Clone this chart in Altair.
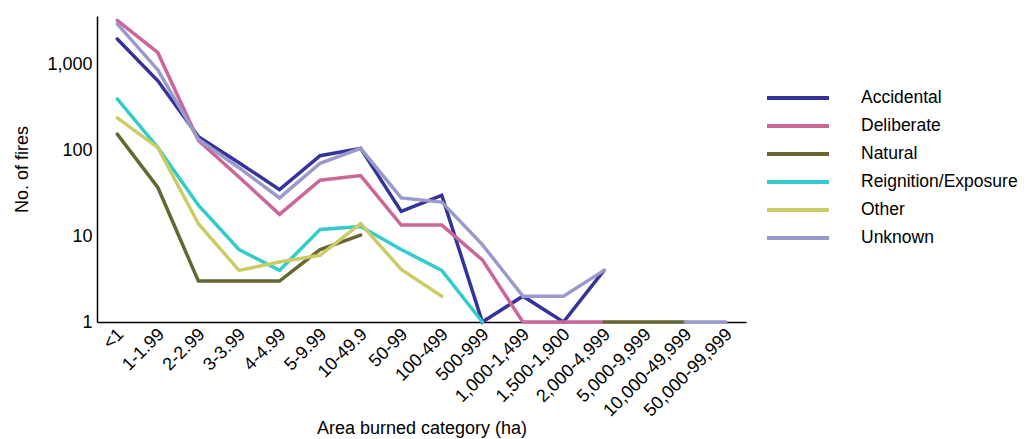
import altair as alt
import pandas as pd

categories = ["<1", "1-1.99", "2-2.99", "3-3.99", "4-4.99", "5-9.99", "10-49.9",
              "50-99", "100-499", "500-999", "1,000-1,499", "1,500-1,900",
              "2,000-4,999", "5,000-9,999", "10,000-49,999", "50,000-99,999"]

series_names = ["Accidental", "Deliberate", "Natural", "Reignition/Exposure", "Other", "Unknown"]
series_colors = ["#333399", "#cc6699", "#666633", "#33cccc", "#cccc66", "#9999cc"]

accidental = [2000, 650, 145, 72, 35, 87, 106, 19.5, 30, 1, 2, 1, 4, None, None, None]
deliberate = [3300, 1380, 131, 49, 18, 45, 51, 13.5, 13.5, 5.3, 1, 1, 1, None, None, None]
natural = [155, 37, 3, 3, 3, 7, 10.3, None, None, None, None, None, 1, 1, 1, None]
reignition = [400, 108, 23, 7, 4, 12, 13, 7, 4, 1, None, None, None, None, None, None]
other = [240, 108, 14, 4, 5, 6, 14, 4.1, 2, None, None, None, None, None, None, None]
unknown = [3000, 870, 135, 63, 28, 71, 106, 28, 25, 8, 2, 2, 4, None, 1, 1]

values = [accidental, deliberate, natural, reignition, other, unknown]

rows = []
for name, vals in zip(series_names, values):
    seg = 0
    prev_none = True
    for cat, v in zip(categories, vals):
        if v is None:
            prev_none = True
            continue
        if prev_none:
            seg += 1
            prev_none = False
        rows.append({"cause": name, "category": cat, "fires": v, "seg": f"{name}-{seg}"})
df = pd.DataFrame(rows)

font = "Liberation Sans"

chart = alt.Chart(df).mark_line(strokeWidth=3.5, strokeCap="round", strokeJoin="miter").encode(
    x=alt.X("category:N", sort=categories, scale=alt.Scale(domain=categories, type="point", padding=0.5),
            axis=alt.Axis(title="Area burned category (ha)", labelAngle=-45, ticks=False, grid=False,
                          domainColor="black", domainWidth=1.5, labelFontSize=18, labelPadding=3,
                          labelOffset=-3,
                          titleFontSize=18, titleFontWeight="normal", titlePadding=0,
                          labelColor="black", titleColor="black")),
    y=alt.Y("fires:Q", scale=alt.Scale(type="log", domain=[1, 3700], nice=False),
            axis=alt.Axis(title="No. of fires", values=[1, 10, 100, 1000], format=",", ticks=False,
                          grid=False, domainColor="black", domainWidth=1.5, labelFontSize=18,
                          labelPadding=5, titleFontSize=18, titleFontWeight="normal",
                          titlePadding=15, labelColor="black", titleColor="black")),
    color=alt.Color("cause:N", scale=alt.Scale(domain=series_names, range=series_colors),
                    legend=alt.Legend(title=None, orient="none", legendX=689, legendY=70,
                                      symbolType="M-3.1,0H3.1", symbolSize=400, symbolStrokeWidth=4,
                                      labelFontSize=17.5, labelFont=font, labelColor="black",
                                      labelLimit=400, rowPadding=7, labelOffset=51)),
    detail="seg:N",
).properties(
    width=649, height=306,
    padding={"left": 5, "top": 5, "right": 0, "bottom": 0},
).configure(font=font).configure_view(stroke=None)

chart.save("out.html", embed_options={"renderer": "svg", "actions": False})
